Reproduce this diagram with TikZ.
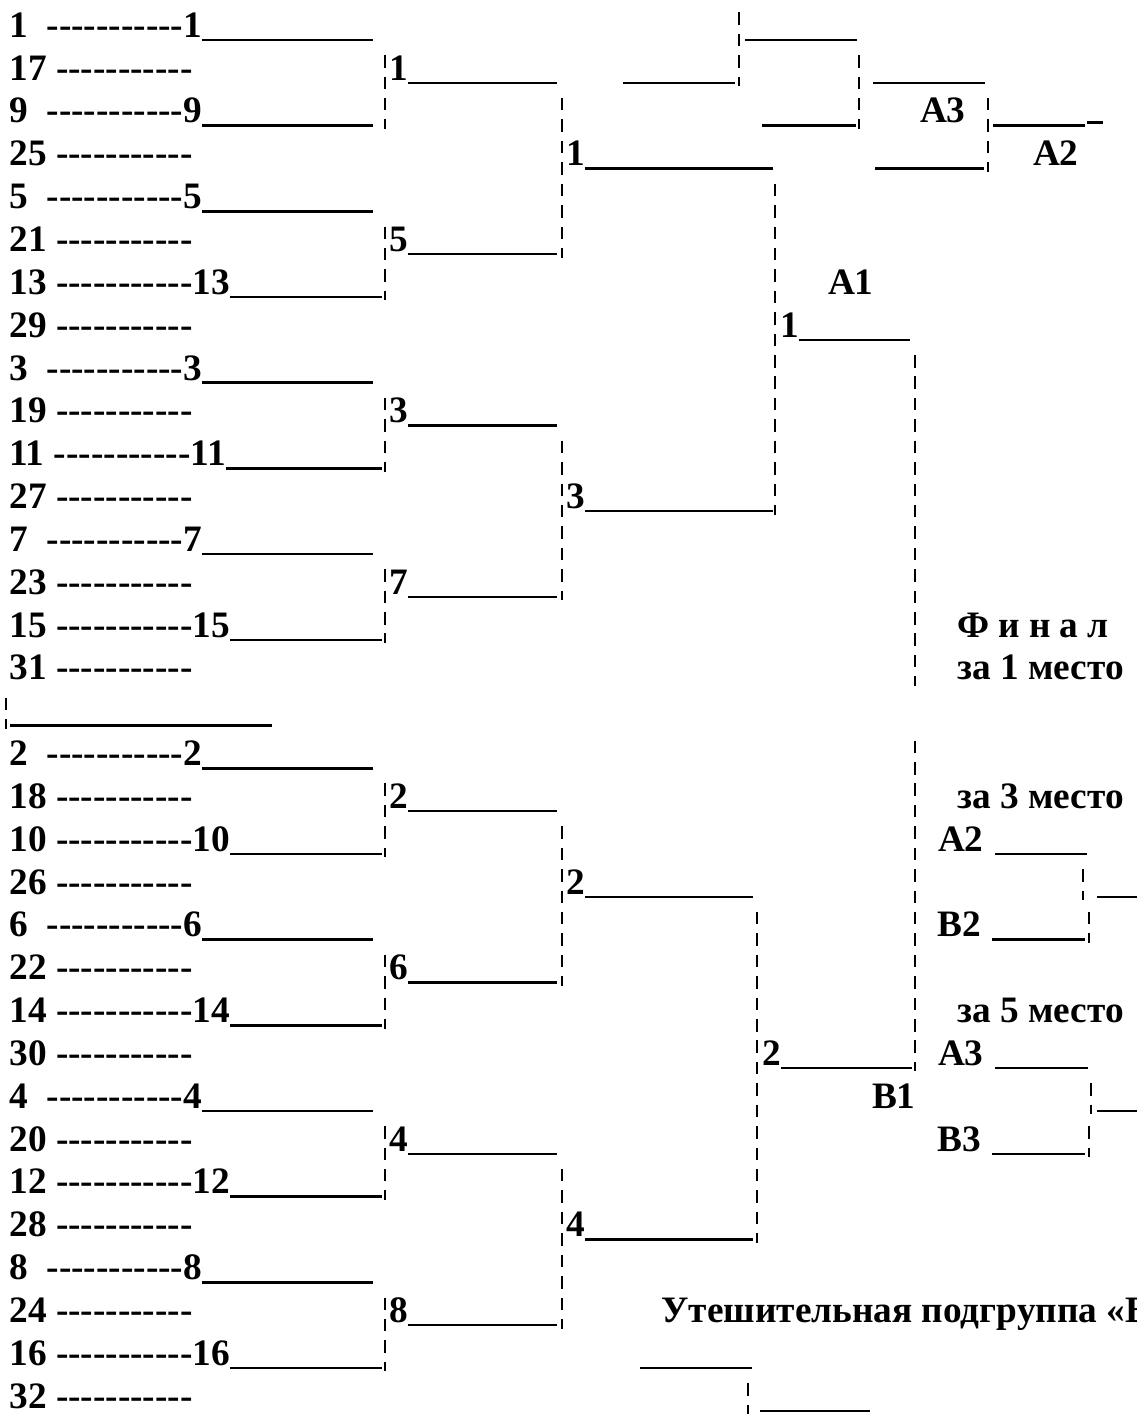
\documentclass[tikz,border=0pt]{standalone}
\usepackage{fontspec}
\setmainfont{Liberation Serif}
\usetikzlibrary{calc}
\pgfmathdeclarefunction{rb}{1}{\pgfmathparse{37.3+42.84*#1}}
\pgfmathdeclarefunction{ru}{1}{\pgfmathparse{40+42.84*#1}}
\newcommand\hy{-\kern0pt-\kern0pt-\kern0pt-\kern0pt-\kern0pt-\kern0pt-\kern0pt-\kern0pt-\kern0pt-\kern0pt-}
\tikzset{
  lab/.style={anchor=base west, inner sep=0pt, outer sep=0pt},
  ul/.style={line width=2.5pt, line cap=butt},
  vb/.style={line width=2.6pt, dash pattern=on 12.5pt off 8.92pt},
}
\newcommand\vbar[4]{% name, x, first row, last row
  \coordinate (#1t) at (#2,{rb(#3)-25});
  \coordinate (#1b) at (#2,{rb(#4)+6});
  \draw[vb] (#1t) -- (#1b);}
\newcommand\hln[4]{% name, x1, x2, row
  \coordinate (#1l) at (#2,{ru(#4)});
  \coordinate (#1r) at (#3,{ru(#4)});
  \draw[ul] (#1l) -- (#1r);}
\begin{document}
\begin{tikzpicture}[x=1pt,y=-1pt,font=\fontsize{37.3}{42.84}\selectfont\bfseries]
\useasboundingbox (0,0) rectangle (1136,1414);
\fill[white] (0,0) rectangle (1136,1414);

% ---- seeds, first column
\foreach \k/\s in {0/1,2/9,4/5,8/3,12/7,17/2,21/6,25/4,29/8}{
  \node[lab] (s\s) at (9.4,{rb(\k)}) {\s\ \ \hy\s};
  \coordinate (e\s) at (373,{ru(\k)});
  \draw[ul] (s\s.base east |- e\s) -- (e\s);
}
\foreach \k/\s in {6/13,10/11,14/15,19/10,23/14,27/12,31/16}{
  \node[lab] (s\s) at (9.4,{rb(\k)}) {\s\ \hy\s};
  \coordinate (e\s) at (382,{ru(\k)});
  \draw[ul] (s\s.base east |- e\s) -- (e\s);
}
\foreach \k/\s in {1/17,3/25,5/21,7/29,9/19,11/27,13/23,15/31,18/18,20/26,22/22,24/30,26/20,28/28,30/24,32/32}{
  \node[lab] (s\s) at (9.4,{rb(\k)}) {\s\ \hy};
}
\foreach \a/\b in {1/2,5/6,9/10,13/14,18/19,22/23,26/27,30/31}{
  \vbar{pa\a}{385}{\a}{\b}
}
% separator row
\vbar{sep}{6}{16}{16}
\hln{sepl}{10}{272}{16}

% ---- second column
\foreach \k/\w in {1/1,5/5,9/3,13/7,18/2,22/6,26/4,30/8}{
  \node[lab] (w\k) at (389.2,{rb(\k)}) {\w};
  \coordinate (we\k) at (557,{ru(\k)});
  \draw[ul] (w\k.base east |- we\k) -- (we\k);
}
\foreach \a/\b in {2/5,10/13,19/22,27/30}{
  \vbar{pb\a}{562}{\a}{\b}
}

% ---- third column
\foreach \k/\w/\e in {3/1/773,11/3/773,20/2/753,28/4/753}{
  \node[lab] (t\k) at (566.2,{rb(\k)}) {\w};
  \coordinate (te\k) at (\e,{ru(\k)});
  \draw[ul] (t\k.base east |- te\k) -- (te\k);
}
\vbar{pc1}{775}{4}{11}
\vbar{pc2}{757}{21}{28}

% ---- fourth column
\node[lab] (q1) at (780.5,{rb(7)}) {1};
\coordinate (qe1) at (910,{ru(7)});
\draw[ul] (q1.base east |- qe1) -- (qe1);
\node[lab] (q2) at (762.5,{rb(24)}) {2};
\coordinate (qe2) at (912,{ru(24)});
\draw[ul] (q2.base east |- qe2) -- (qe2);
\vbar{pd1}{915}{8}{15}
\vbar{pd2}{915}{17}{24}
\node[lab] (A1) at (828,{rb(6)}) {А1};
\node[lab] (B1) at (872,{rb(25)}) {В1};

% ---- final texts
\node[lab] (fin) at (957,{rb(14)}) {Ф и н а л};
\node[lab] (m1) at (957.5,{rb(15)}) {за 1 место};
\node[lab] (m3) at (957.5,{rb(18)}) {за 3 место};
\node[lab] (m5) at (957.5,{rb(23)}) {за 5 место};
\node[lab] (fa2) at (938,{rb(19)}) {А2};
\node[lab] (fb2) at (937.3,{rb(21)}) {В2};
\node[lab] (fa3) at (938,{rb(24)}) {А3};
\node[lab] (fb3) at (937.3,{rb(26)}) {В3};
\hln{f19}{995}{1087}{19}
\hln{f21}{992}{1085}{21}
\hln{f24}{995}{1088}{24}
\hln{f26}{992}{1085}{26}
\vbar{f20v}{1083}{20}{20}
\vbar{f21v}{1089}{21}{21}
\vbar{f25v}{1091}{25}{25}
\vbar{f26v}{1089}{26}{26}
\hln{f20}{1097}{1140}{20}
\hln{f25}{1097}{1140}{25}

% ---- top right fragment
\vbar{tr0}{739}{0}{1}
\hln{tr0h}{745}{857}{0}
\hln{tr1a}{623}{735}{1}
\vbar{tr1}{859}{1}{2}
\hln{tr1b}{873}{985}{1}
\hln{tr2a}{762}{856}{2}
\node[lab] (ta3) at (920,{rb(2)}) {А3};
\vbar{tr2}{988}{2}{3}
\hln{tr2b}{993}{1085}{2}
\coordinate (dsl) at (1087,{ru(2)-3});
\coordinate (dsr) at (1103,{ru(2)-3});
\draw[ul] (dsl) -- (dsr);
\hln{tr3}{875}{984}{3}
\node[lab] (ta2) at (1033,{rb(3)}) {А2};

% ---- consolation group (cut at the right edge, as in the original)
\node[lab] (cons) at (661.5,{rb(30)}) {Утешительная подгруппа «В»};
\hln{c31}{640}{752}{31}
\vbar{c32v}{748}{32}{32}
\hln{c32}{760}{870}{32}
\end{tikzpicture}
\end{document}
